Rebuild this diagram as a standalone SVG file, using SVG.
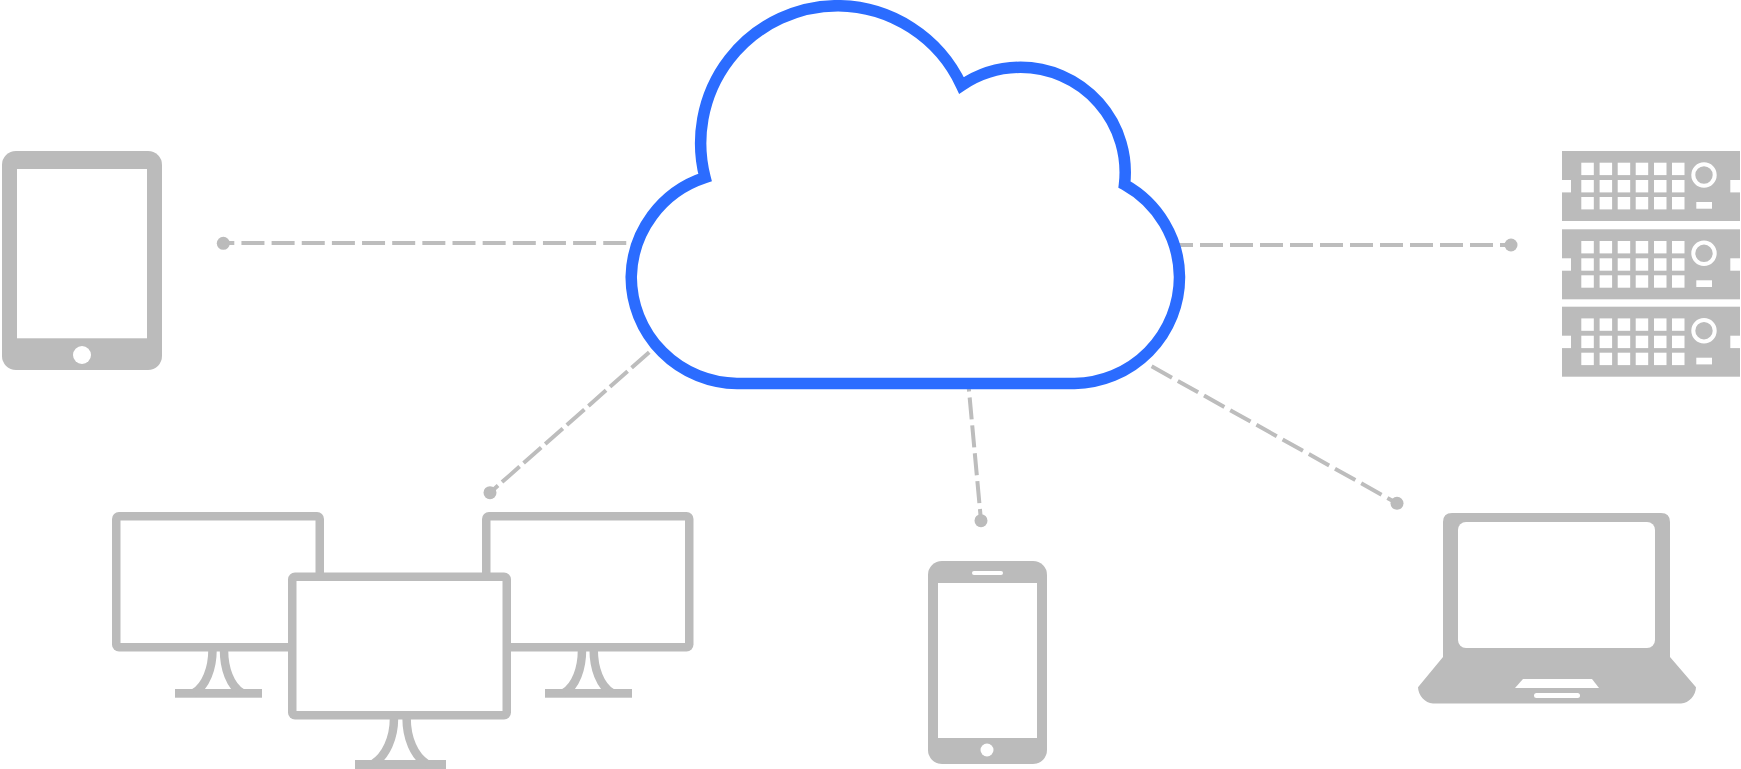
<svg xmlns="http://www.w3.org/2000/svg" width="1741" height="769" viewBox="0 0 1741 769">
<style>
.g{fill:#bbbbbb}
.w{fill:#ffffff}
.st{fill:none;stroke:#bbbbbb;stroke-width:8.5}
.ln{fill:none;stroke:#bdbdbd;stroke-width:4}
.dot{fill:#bbbbbb}
</style>
<defs>
<g id="srv">
<rect class="g" x="1562" y="0" width="178" height="70"/>
<rect class="w" x="1561" y="29" width="10" height="12.4"/>
<rect class="w" x="1730.3" y="29" width="11" height="12.4"/>
<g class="w">
<rect x="1581.3" y="11.7" width="12.5" height="12.4"/><rect x="1599.6" y="11.7" width="12.5" height="12.4"/><rect x="1617.7" y="11.7" width="12.5" height="12.4"/><rect x="1635.7" y="11.7" width="12.5" height="12.4"/><rect x="1654" y="11.7" width="12.5" height="12.4"/><rect x="1672" y="11.7" width="12.5" height="12.4"/>
<rect x="1581.3" y="29" width="12.5" height="12.4"/><rect x="1599.6" y="29" width="12.5" height="12.4"/><rect x="1617.7" y="29" width="12.5" height="12.4"/><rect x="1635.7" y="29" width="12.5" height="12.4"/><rect x="1654" y="29" width="12.5" height="12.4"/><rect x="1672" y="29" width="12.5" height="12.4"/>
<rect x="1581.3" y="46" width="12.5" height="12.4"/><rect x="1599.6" y="46" width="12.5" height="12.4"/><rect x="1617.7" y="46" width="12.5" height="12.4"/><rect x="1635.7" y="46" width="12.5" height="12.4"/><rect x="1654" y="46" width="12.5" height="12.4"/><rect x="1672" y="46" width="12.5" height="12.4"/>
<rect x="1696.3" y="51" width="15.7" height="6.7"/>
</g>
<circle cx="1704" cy="24" r="10.7" fill="none" stroke="#ffffff" stroke-width="4"/>
</g>
</defs>
<rect width="1741" height="769" fill="#ffffff"/>
<g id="connectors">
<path class="ln" d="M223.3 243H626.5" stroke-dasharray="23 7.15" stroke-dashoffset="12"/>
<path class="ln" d="M1511 245H1171" stroke-dasharray="23 7" stroke-dashoffset="12"/>
<path class="ln" d="M490 492.7L651 350.7" stroke-dasharray="23.5 5.3" stroke-dashoffset="12.8"/>
<path class="ln" d="M981 520.7L968.5 385" stroke-dasharray="22 6" stroke-dashoffset="10.3"/>
<path class="ln" d="M1397 503.3L1151 366" stroke-dasharray="23.3 6.7" stroke-dashoffset="12.3"/>
<circle class="dot" cx="223.3" cy="243.3" r="6.5"/>
<circle class="dot" cx="1511" cy="245" r="6.5"/>
<circle class="dot" cx="490" cy="492.7" r="6.5"/>
<circle class="dot" cx="981" cy="520.7" r="6.5"/>
<circle class="dot" cx="1397" cy="503.3" r="6.5"/>
</g>
<g id="cloud">
<path d="M705 177.5A137.5 137.5 0 0 1 838 5.7A137.5 137.5 0 0 1 961.5 85.5A105 105 0 0 1 1020.5 67.3A105 105 0 0 1 1124.5 184.5A107 107 0 0 1 1179.5 277A106.7 106.7 0 0 1 1074.5 383.5H737A107 107 0 0 1 631.2 277A107 107 0 0 1 705 177.5Z" fill="#ffffff" stroke="#2b6cff" stroke-width="11.5" stroke-miterlimit="10"/>
</g>
<g id="tablet">
<rect class="g" x="2" y="151" width="160" height="219" rx="14"/>
<rect class="w" x="17" y="169" width="130" height="169.3"/>
<circle class="w" cx="82" cy="355" r="9"/>
</g>
<g id="servers">
<use href="#srv" y="151"/>
<use href="#srv" y="229.3"/>
<use href="#srv" y="306.7"/>
</g>
<g id="monitors">
<g id="monitor-left">
<rect class="g" x="175" y="689" width="87" height="8.7"/>
<path class="st" d="M212.5 650C212.5 668 206 686 194 693M224 650C224 668 230 686 242 693"/>
<rect class="g" x="112" y="512" width="212" height="139.5" rx="7"/>
<rect class="w" x="120.5" y="520.5" width="195" height="122.5"/>
</g>
<g id="monitor-right">
<rect class="g" x="545" y="689" width="87" height="8.7"/>
<path class="st" d="M582 650C582 668 576 686 564 693M593.7 650C593.7 668 600 686 612 693"/>
<rect class="g" x="482" y="512" width="211.5" height="139.5" rx="7"/>
<rect class="w" x="490.5" y="520.5" width="194.5" height="122.5"/>
</g>
<g id="monitor-center">
<rect class="g" x="355" y="760" width="91" height="9"/>
<path class="st" d="M394 718C394 738 386 756 373 764M406.6 718C406.6 738 414 756 427 764"/>
<rect class="g" x="288" y="572.5" width="223" height="147" rx="7"/>
<rect class="w" x="296.5" y="581" width="206" height="130"/>
</g>
</g>
<g id="phone">
<rect class="g" x="928" y="561" width="119" height="203" rx="14"/>
<rect class="w" x="938" y="583" width="99" height="155"/>
<rect class="w" x="972" y="571" width="31" height="4" rx="2"/>
<circle class="w" cx="987" cy="750" r="6.5"/>
</g>
<g id="laptop">
<path class="g" d="M1443 657V522Q1443 513 1452 513H1661Q1670 513 1670 522V657L1696 687.3A17 17 0 0 1 1681 703.5H1433A17 17 0 0 1 1418 687.3Z"/>
<rect class="w" x="1458" y="522" width="197" height="126" rx="8"/>
<path class="w" d="M1523 679H1592L1599 688H1515Z"/>
<rect class="w" x="1534" y="693" width="46" height="5" rx="2.5"/>
</g>
</svg>
